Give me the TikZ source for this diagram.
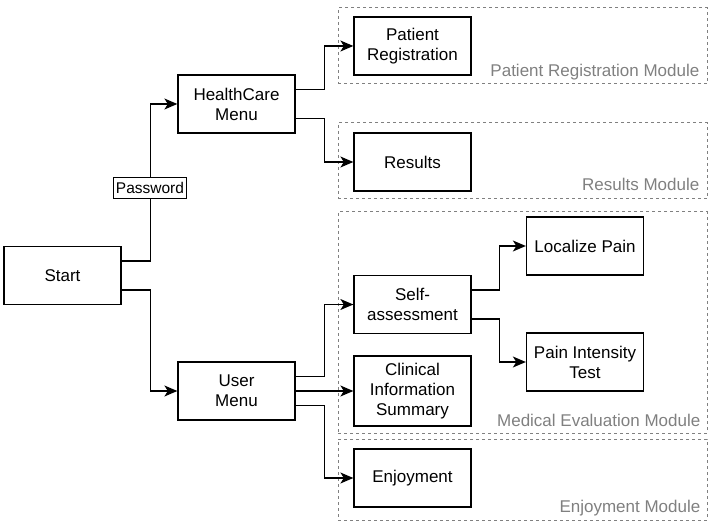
\documentclass[tikz,border=0pt]{standalone}
\usepackage{fontspec}
\setmainfont{Liberation Sans}
\usetikzlibrary{positioning,arrows.meta}
\definecolor{modgray}{HTML}{808080}

\begin{document}
\begin{tikzpicture}[
     x=1pt, y=-1pt,
     % define styles
     box/.style={
         draw, fill=white, line width=1.3pt,
         minimum width=117pt, minimum height=58pt,
         inner sep=0pt, align=center,
         font=\fontsize{17}{20}\selectfont
     },
     module/.style={
         draw=modgray, dash pattern=on 3pt off 3pt, line width=1pt,
         minimum width=369pt, inner sep=0pt
     },
     modlabel/.style={
         text=modgray, anchor=base east, inner sep=0pt,
         font=\fontsize{17}{20}\selectfont
     },
     lbl/.style={
         draw, fill=white, line width=0.8pt,
         inner xsep=2.5pt, inner ysep=4.5pt,
         font=\fontsize{15.5}{18}\selectfont
     },
     link/.style={->, line width=1.3pt},
     >={Stealth[length=13pt,width=11pt,inset=3.5pt]}
]
\useasboundingbox (0,0) rectangle (711,526);

% module frames
\node[module, minimum height=76pt]  (prmod)  at (522.5,46)    {};
\node[module, minimum height=76pt]  (resmod) at (522.5,161)   {};
\node[module, minimum height=221pt] (medmod) at (522.5,322.5) {};
\node[module, minimum height=81pt]  (enjmod) at (522.5,479.5) {};
\node[modlabel] (prlab)  at ([xshift=-8pt,yshift=8pt]prmod.south east)  {Patient Registration Module};
\node[modlabel] (reslab) at ([xshift=-8pt,yshift=9pt]resmod.south east) {Results Module};
\node[modlabel] (medlab) at ([xshift=-7pt,yshift=7pt]medmod.south east) {Medical Evaluation Module};
\node[modlabel] (enjlab) at ([xshift=-7pt,yshift=8pt]enjmod.south east) {Enjoyment Module};

% boxes
\node[box] (start) at (62.5,275.5) {Start};
\node[box] (hc)    at (236.5,104)  {HealthCare\\Menu};
\node[box] (um)    at (236.5,391)  {User\\Menu};
\node[box] (pr)    at (412.5,46)   {Patient\\Registration};
\node[box] (res)   at (412.5,162)  {Results};
\node[box] (sa)    at (412.5,304.5) {Self-\\assessment};
\node[box, minimum height=70pt] (cis) at (412.5,391) {Clinical\\Information\\Summary};
\node[box] (enj)   at (412.5,478)  {Enjoyment};
\node[box] (lp)    at (585,246)    {Localize Pain};
\node[box] (pit)   at (585,362)    {Pain Intensity\\Test};

% connectors
\draw[link] ([yshift=14.5pt]start.east) -- ++(29,0) |- (hc.west);
\draw[link] ([yshift=-14.5pt]start.east) -- ++(29,0) |- (um.west);
\node[lbl] (pw) at (150,188) {Password};
\draw[link] ([yshift=14.5pt]hc.east) -- ++(29,0) |- (pr.west);
\draw[link] ([yshift=-14.5pt]hc.east) -- ++(29,0) |- (res.west);
\draw[link] ([yshift=14.5pt]um.east) -- ++(29,0) |- (sa.west);
\draw[link] (um.east) -- (cis.west);
\draw[link] ([yshift=-14.5pt]um.east) -- ++(29,0) |- (enj.west);
\draw[link] ([yshift=14.5pt]sa.east) -- ++(28,0) |- (lp.west);
\draw[link] ([yshift=-14.5pt]sa.east) -- ++(28,0) |- (pit.west);
\end{tikzpicture}
\end{document}
